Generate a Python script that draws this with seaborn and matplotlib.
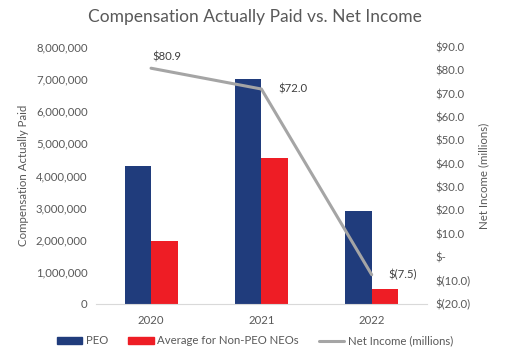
import numpy as np
import pandas as pd
import matplotlib
matplotlib.use("Agg")
import matplotlib.pyplot as plt
import matplotlib.ticker as mticker
import seaborn as sns

# chart data
years = ["2020", "2021", "2022"]
peo = [4300000, 7000000, 2900000]
neo_avg = [1950000, 4550000, 480000]
net_income = [80.9, 72.0, -7.5]
net_labels = ["$80.9", "$72.0", "$(7.5)"]

sns.set_style("white")
plt.rcParams['font.family'] = ['Lato', 'DejaVu Sans']
grey_txt = "#595959"

df = pd.DataFrame({
    "Year": years * 2,
    "Value": peo + neo_avg,
    "Series": ["PEO"] * 3 + ["Average for Non-PEO NEOs"] * 3,
})

fig = plt.figure(figsize=(5.1, 3.64), dpi=100)
ax = fig.add_axes([0.188, 0.165, 0.649, 0.706])

sns.barplot(data=df, x="Year", y="Value", hue="Series", ax=ax,
            palette=["#203C7C", "#EE1D25"], width=0.48, gap=0,
            saturation=1, legend=False, linewidth=0)
ax.set_ylim(0, 8000000)
ax.yaxis.set_major_locator(mticker.MultipleLocator(1000000))
ax.yaxis.set_major_formatter(mticker.FuncFormatter(lambda v, p: f"{v:,.0f}"))
ax.set_xlabel("")
ax.set_ylabel("Compensation Actually Paid", color=grey_txt, fontsize=8.3, labelpad=5)
ax.tick_params(axis="y", length=0, labelsize=8.2, colors=grey_txt, pad=6)
ax.tick_params(axis="x", length=0, labelsize=8.2, colors=grey_txt, pad=8)
for s in ["top", "left", "right"]:
    ax.spines[s].set_visible(False)
ax.spines["bottom"].set_color("#D9D9D9")

ax2 = ax.twinx()
xpos = np.arange(len(years))
sns.lineplot(x=xpos, y=net_income, ax=ax2, color="#A5A5A5", linewidth=2.2)
ax2.set_ylim(-20, 90)
ax2.yaxis.set_major_locator(mticker.MultipleLocator(10))


def money(v, p):
    if abs(v) < 1e-9:
        return "$-"
    if v < 0:
        return f"$({abs(v):.1f})"
    return f"${v:.1f}"


ax2.yaxis.set_major_formatter(mticker.FuncFormatter(money))
ax2.set_ylabel("Net Income (millions)", color=grey_txt, fontsize=8.3, labelpad=6)
ax2.tick_params(axis="y", length=0, labelsize=8.2, colors=grey_txt, pad=6)
for s in ["top", "left", "right", "bottom"]:
    ax2.spines[s].set_visible(False)
ax.set_xlim(-0.5, 2.5)

offsets = [(1, 8), (12, 0), (12, 0)]
for x, y, lab, off in zip(xpos, net_income, net_labels, offsets):
    ax2.annotate(lab, (x, y), xytext=off, textcoords="offset points",
                 fontsize=8.2, color="#404040", va="center", ha="left")

fig.suptitle("Compensation Actually Paid vs. Net Income", y=0.975,
             fontsize=12.5, color=grey_txt)

handles = [
    matplotlib.patches.Patch(color="#203C7C", label="PEO"),
    matplotlib.patches.Patch(color="#EE1D25", label="Average for Non-PEO NEOs"),
    matplotlib.lines.Line2D([], [], color="#A5A5A5", linewidth=2.2, label="Net Income (millions)"),
]
leg = fig.legend(handles=handles, loc="lower center", ncol=3, frameon=False,
                 bbox_to_anchor=(0.5, 0.02), fontsize=8.2, handlelength=2.2,
                 handleheight=0.55, columnspacing=1.8, handletextpad=0.3)
for t in leg.get_texts():
    t.set_color(grey_txt)

fig.savefig("out.png", dpi=100)
